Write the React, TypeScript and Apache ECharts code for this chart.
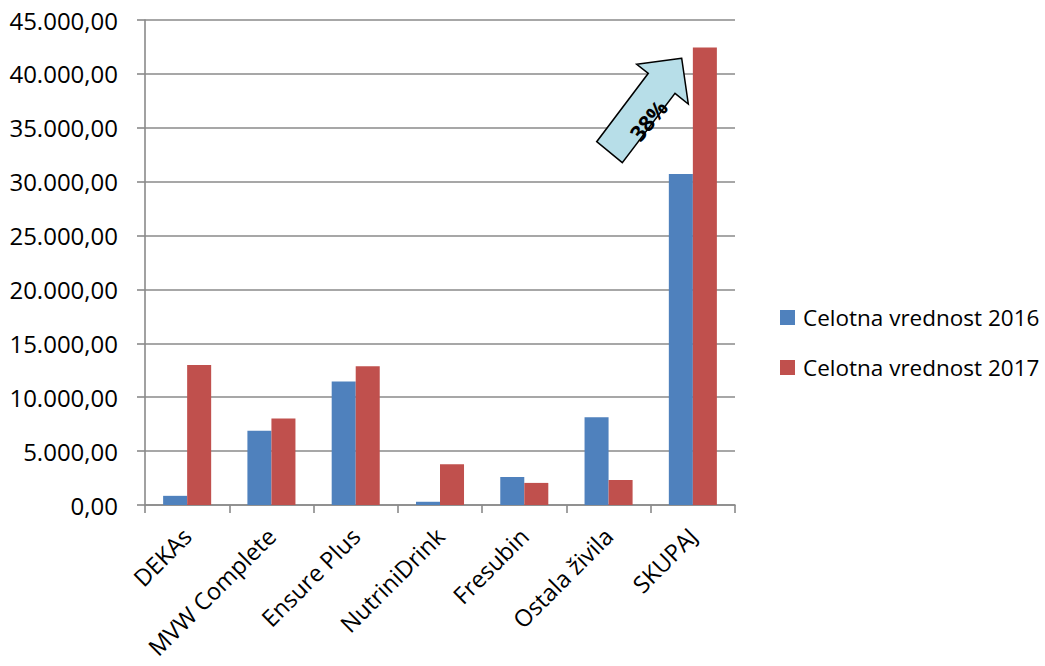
import React, { useEffect, useRef } from "react";
import * as echarts from "echarts";

const categories = ["DEKAs", "MVW Complete", "Ensure Plus", "NutriniDrink", "Fresubin", "Ostala živila", "SKUPAJ"];
const values2016 = [850, 6900, 11450, 300, 2600, 8150, 30700];
const values2017 = [12980, 8020, 12870, 3780, 2050, 2320, 42450];
const seriesNames = ["Celotna vrednost 2016", "Celotna vrednost 2017"];
const arrowLabel = "38%";

const fmt = (v: number) => {
  const fixed = v.toFixed(2);
  const [intPart, dec] = fixed.split(".");
  const withSep = intPart.replace(/\B(?=(\d{3})+(?!\d))/g, ".");
  return withSep + "," + dec;
};

export default function App() {
  const ref = useRef<HTMLDivElement>(null);
  useEffect(() => {
    document.body.style.margin = "0";
    const chart = echarts.init(ref.current!, null, { renderer: "svg" });
    const font = "'Open Sans', 'Noto Sans', sans-serif";
    chart.setOption({
      animation: false,
      backgroundColor: "#ffffff",
      grid: { left: 145, right: 310, top: 20, bottom: 161 },
      legend: {
        orient: "vertical",
        left: 775,
        top: 301,
        itemWidth: 15,
        itemHeight: 15,
        itemGap: 27,
        icon: "rect",
        textStyle: { fontFamily: font, fontSize: 22.5, color: "#000", padding: [0, 0, 0, 3] },
        data: seriesNames,
      },
      xAxis: {
        type: "category",
        data: categories,
        axisLine: { lineStyle: { color: "#8a8a8a", width: 1.6 } },
        axisTick: { show: true, length: 8, lineStyle: { color: "#8a8a8a", width: 1.6 } },
        axisLabel: {
          rotate: 45,
          interval: 0,
          margin: 27,
          fontFamily: font,
          fontSize: 23.5,
          color: "#000",
        },
      },
      yAxis: {
        type: "value",
        min: 0,
        max: 45000,
        interval: 5000,
        axisLine: { show: true, lineStyle: { color: "#8a8a8a", width: 1.6 } },
        axisTick: { show: true, length: 8, lineStyle: { color: "#8a8a8a", width: 1.6 } },
        splitLine: { lineStyle: { color: "#8a8a8a", width: 1.6 } },
        axisLabel: {
          margin: 27,
          fontFamily: font,
          fontSize: 24,
          color: "#000",
          formatter: (v: number) => fmt(v),
        },
      },
      series: [
        {
          name: seriesNames[0],
          type: "bar",
          data: values2016,
          barGap: "0%",
          barCategoryGap: "43%",
          itemStyle: { color: "#4f81bd" },
        },
        {
          name: seriesNames[1],
          type: "bar",
          data: values2017,
          barGap: "0%",
          barCategoryGap: "43%",
          itemStyle: { color: "#c0504d" },
        },
      ],
      graphic: [
        {
          type: "polygon",
          z: 100,
          shape: {
            points: [
              [681.7, 58.3],
              [636.7, 64.3],
              [648.3, 73.3],
              [596.7, 141.7],
              [622.3, 162.7],
              [675, 93.3],
              [688.3, 104],
            ],
          },
          style: { fill: "#b7dee8", stroke: "#000", lineWidth: 1.5 },
        },
        {
          type: "text",
          z: 101,
          x: 648,
          y: 120,
          rotation: (50 * Math.PI) / 180,
          style: {
            text: arrowLabel,
            fontFamily: font,
            fontWeight: "bold",
            fontSize: 22,
            fill: "#000",
            align: "center",
            verticalAlign: "middle",
          },
        },
      ],
    });
    return () => chart.dispose();
  }, []);
  return <div ref={ref} style={{ width: 1045, height: 666 }} />;
}
